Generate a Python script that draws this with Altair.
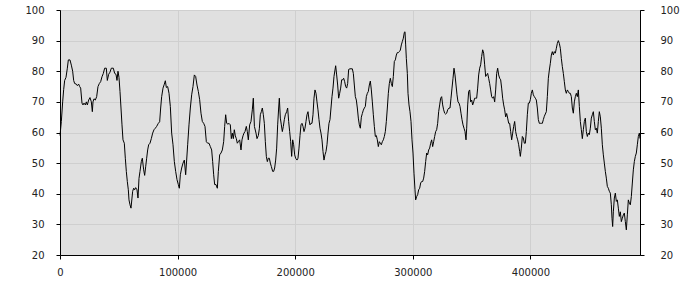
import altair as alt
import pandas as pd

X_VALUES = [
    0, 1134, 2267, 3117, 3967, 5101, 6235, 7085, 8502, 9635, 10769, 11619, 12469, 13886, 14736, 15870,
    16720, 17571, 18704, 19554, 20405, 21538, 22388, 23239, 24372, 25506, 26639, 27489, 28056, 28906,
    30040, 31173, 32307, 33441, 34574, 35708, 36842, 37975, 39392, 40242, 41376, 42510, 43643, 45344,
    46477, 47611, 48461, 49311, 50162, 51012, 51862, 52712, 53562, 54696, 55546, 56396, 57247, 58097,
    58664, 59514, 60364, 61214, 61781, 62631, 63481, 64332, 65465, 66316, 67166, 68016, 69149, 70000,
    71133, 71983, 72834, 73684, 74534, 75384, 76518, 77651, 78785, 79919, 81052, 82186,
    83613, 84747, 85597, 86447, 87581, 88714, 89565, 90415, 91548, 92682, 93816, 94949, 96083, 97217,
    98350, 99484, 100617, 101468, 102318, 103451, 104585, 105719, 106852, 107702, 108553, 109686,
    110820, 111953, 113087, 114221, 115354, 116488, 117621, 118755, 119888, 121022, 122156, 123289,
    124423, 125556, 126690, 127823, 128957, 129807, 130657, 131508, 132641, 133775, 134625, 135759,
    136892, 138026, 139159, 140010, 140860, 141710, 142844, 143694, 144827, 145678, 146528, 147378,
    148228, 149078, 149929, 150779, 151629, 152763, 153896, 154746, 155597, 156447, 157297, 158431,
    159281, 160131, 161265, 162398, 163532, 164382, 165300,
    166659, 167509, 168643, 169493, 170343, 171193, 172044, 172894, 173744, 174594, 175444, 176295,
    177145, 177995, 178845, 179695, 180829, 181679, 182529, 183379, 184230, 185080, 185930, 186497,
    187347, 188197, 189047, 189898, 190748, 191598, 192732, 193582, 194432, 195282, 196132, 196983,
    197833, 198683, 199533, 200383, 201517, 202367, 203217, 204068, 204918, 205768, 206618, 207468,
    208319, 209169, 210019, 210869, 211719, 212570, 213420, 214270, 215120, 215970, 216821, 217671,
    218521, 219371, 220221, 221072, 221922, 222772, 223622, 224472, 225323, 226173, 227023, 227873,
    228723, 229574, 230424, 231274, 232124, 232974, 233825, 234391, 235241, 236092, 236942, 237792,
    238642, 239493, 240343, 241193, 242043, 242893, 243744, 244594, 245444, 246578,
    248571, 249421, 250271, 251122, 251972, 252822, 253672, 254522, 255373, 256223, 257073, 257923,
    258773, 259624, 260474, 261324, 262174, 263024, 263875, 264725, 265575, 266425, 267275, 268126,
    268976, 269826, 270676, 271526, 272377, 273227, 274077, 274927, 275777, 276628, 277478, 278328,
    279178, 280028, 280879, 281729, 282579, 283429, 284280, 285130, 285980, 286830, 287680, 288531,
    289381, 290231, 291081, 291931, 292782, 293348, 293915, 294482, 295332, 295899, 296749, 297599,
    298450, 299300, 300150, 301000, 301850, 302417, 303267, 304118, 304968, 305818, 306668, 307518,
    308369, 309219, 310069, 310919, 311769, 312620, 313470, 314320, 315170, 316021, 316871, 317721,
    318571, 319421, 320272, 321122, 321972, 322822, 323672, 324523, 325373, 326223, 327073, 327923,
    328774, 329624,
    330767, 331617, 332467, 333317, 334167, 335018, 335868, 336718, 337568, 338418, 339269, 340119,
    340969, 341819, 342669, 343520, 344370, 345220, 345787, 346637, 347487, 348338, 349188, 350038,
    350888, 351738, 352589, 353439, 354289, 355139, 355989, 356840, 357690, 358540, 359390, 360240,
    361091, 361941, 362791, 363641, 364491, 365342, 366192, 367042, 367892, 368743, 369593, 370443,
    371293, 372143, 372994, 373844, 374694, 375544, 376394, 377245, 378095, 378945, 379795, 380645,
    381496, 382346, 383196, 384046, 384896, 385747, 386597, 387447, 388297, 389147, 389998, 390848,
    391415, 392265, 393115, 393965, 394816, 395666, 396516, 397366, 398216, 399067, 399917, 400767,
    401617, 402467, 403318, 404168, 405018, 405868, 406718, 407569, 408419, 409269, 410119, 410969,
    411820,
    413529, 414379, 415229, 416080, 416930, 417780, 418630, 419480, 420331, 421181, 422031, 422881,
    423731, 424582, 425432, 426282, 427132, 427982, 428833, 429683, 430533, 431383, 432234, 433084,
    433934, 434784, 435634, 436485, 437335, 438185, 439035, 439885, 440736, 441586, 442436, 443286,
    444136, 444987, 445837, 446687, 447537, 448387, 449238, 450088, 450938, 451788, 452638, 453489,
    454339, 455189, 456039, 456889, 457740, 458590, 459440, 460290, 461140, 461991, 462841, 463691,
    464541, 465392, 466242, 467092, 467942, 468792, 469359, 469926, 470493, 471343, 472193, 473043,
    473894, 474744, 475594, 476444, 477294, 478145, 478995, 479845, 480695, 481545, 482396, 483246,
    484096, 484946, 485797, 486647, 487497, 488347, 489197, 490048, 490898, 491748, 492598, 493165,
]

Y_VALUES = [
    59, 63.6, 70, 74, 77, 78, 81, 83.7, 83.7, 82, 80, 77, 76, 75.8, 75.3, 75.8,
    75, 74.5, 69.6, 69, 69.6, 69, 70, 69, 70.6, 71.4, 70, 66.8, 70, 71,
    70.6, 71.7, 75, 76, 76.6, 78.2, 79.3, 81, 81, 77, 79, 79.7, 81, 81,
    79.3, 79, 77, 80, 78, 73.4, 68, 62.5, 57.6, 56.5, 51.6, 47.3, 44, 41.3,
    38, 36.4, 35.3, 38.6, 40.8, 41.8, 41.3, 42, 41.3, 38.6, 45, 47.3, 50.5, 51.6,
    47.8, 46, 48.8, 51.6, 54.3, 56, 56.5, 58, 59.8, 60.9, 61.4, 62,
    63, 63.5, 68, 71.7, 74.5, 75.8, 76.9, 74.7, 75, 72.8, 68.5, 59.8, 56, 50.5,
    47.3, 44.6, 43, 41.8, 46.2, 48.4, 50, 51, 46.2, 51, 56, 62.5,
    68, 72.3, 75, 78.8, 78.3, 75.5, 73.4, 70.7, 66.3, 63.6, 63, 62,
    57, 56.5, 56.5, 55.4, 54.3, 50.5, 46.2, 43, 43, 41.8, 47.3, 52.7,
    53.3, 54.3, 57, 62, 65.8, 63, 62.7, 63, 62.5, 58, 59.8, 58,
    60.9, 58.9, 58, 56.5, 57, 57.6, 54.3, 57.6, 58.9, 59.8, 60.3, 62,
    60.3, 57.6, 62.5, 63.6, 67.4, 71.2, 62,
    59.8, 58, 59, 61.2, 65.8, 66.8, 68, 65.8, 63, 57, 52.2, 50.5,
    51.6, 51.6, 50, 48.9, 47.3, 47.3, 48.4, 51, 54.9, 62.5, 68, 71.2,
    64.7, 62.5, 60.3, 62, 64.2, 65.8, 66.8, 68, 63.6, 60.3, 57, 52.2,
    57.6, 56, 52.7, 51.6, 51, 51.6, 54.9, 59, 62.5, 63, 62, 60.3,
    61.4, 63.6, 65.8, 66.8, 64.2, 62.5, 63, 63, 65.8, 71.2, 73.9, 72.8,
    70, 67.4, 64.2, 61.4, 59.8, 57.6, 53.8, 51, 52.7, 53.8, 56, 59.8,
    63, 64.2, 68, 71.7, 74.5, 78.3, 80.4, 81.8, 78.8, 75.5, 71.2, 72.8,
    74.5, 77.2, 77.2, 77.7, 76.6, 75, 74.5, 76, 80.6, 80.8,
    80.8, 79.3, 75.5, 71.7, 70.6, 68, 64.7, 62.5, 61.4, 65, 66.2, 67.3,
    68, 68.5, 71.7, 72.8, 73.4, 75.5, 76.8, 73.9, 70, 65.8, 62, 58.7,
    59, 57.6, 55.4, 57, 56.5, 56, 57, 57.6, 58.7, 60.3, 63.6, 68,
    72.8, 76, 77.7, 76, 75, 78.3, 83.2, 83.7, 85.3, 86.1, 86.1, 86.4,
    86.9, 88.6, 89.7, 90.8, 92.7, 92.9, 88.6, 84.2, 79.3, 72.8, 69, 66.8,
    63.6, 57.6, 53.3, 46.7, 41.3, 38, 39.1, 39.7, 41.3, 41.8, 43.5, 44,
    44, 45.1, 47.3, 50.5, 53.3, 52.7, 54.3, 54.9, 56.5, 57.6, 55.4, 57,
    58.7, 60.3, 60.9, 63, 66.8, 69, 71.2, 71.7, 69, 67.4, 66.3, 66,
    66.3, 67.4,
    68, 68, 71.2, 74.5, 77.7, 81, 78.8, 75.5, 72.3, 70, 69.6, 68.5,
    66.3, 64.2, 62.5, 61.4, 60.3, 57.6, 61.4, 69, 73.4, 73.9, 70, 70.6,
    69, 70, 71.2, 71.2, 71.2, 74.5, 78.8, 81, 82.1, 84.8, 87, 85.9,
    82.1, 78.3, 78.8, 79.3, 77.7, 76, 73.9, 71.7, 71.2, 71.7, 70, 73.9,
    79.3, 81, 78.8, 77.7, 77.2, 74.5, 71.2, 69, 67.4, 65.1, 66.2, 64.7,
    63, 63, 60.3, 57.6, 59.8, 62, 63.6, 60.3, 58.7, 57.6, 56, 53.8,
    52.2, 54.9, 58.7, 58.2, 56.5, 56.5, 60.3, 65.8, 69.6, 69.6, 70.7, 72.8,
    73.9, 72.3, 71.7, 71.2, 70.6, 68, 64.2, 63, 63, 63, 63, 64.2,
    65.3,
    66.8, 71.7, 77.7, 80.4, 82.6, 85.3, 86.4, 85.3, 86.4, 85.9, 87.5, 89.1,
    90, 89.1, 87.5, 84.2, 81.5, 79.3, 76.6, 73.9, 72.8, 73.9, 73.4, 72.8,
    72.8, 71.7, 68, 66.3, 70, 71.7, 72.8, 71.7, 73.9, 68.5, 63.6, 60.9,
    58, 60.9, 63.6, 64.7, 60.3, 58.7, 59.8, 59.3, 61.4, 64.7, 65.8, 66.8,
    63.6, 60.9, 61.4, 59.8, 63.6, 66.8, 65.1, 61.4, 56, 52.7, 50, 47.3,
    45.1, 42.4, 41.8, 40.8, 40.2, 36.4, 32, 29.3, 34.1, 38.6, 40.2, 37.5,
    38, 35.3, 32.6, 34.1, 30.9, 32, 33.1, 33.7, 30.9, 28.2, 33.1, 38,
    36.9, 36.4, 39.1, 43.5, 47.8, 50.5, 52.2, 53.3, 56, 58.7, 59.8, 58,
]

X_TICKS = [0, 100000, 200000, 300000, 400000]
Y_TICKS = [20, 30, 40, 50, 60, 70, 80, 90, 100]

df = pd.DataFrame({"x": X_VALUES, "y": Y_VALUES})

FONT = "DejaVu Sans"
x_enc = alt.X(
    "x:Q",
    scale=alt.Scale(domain=[0, 493165], nice=False, zero=False),
    axis=alt.Axis(
        values=X_TICKS, format="d", title=None, grid=True, gridColor="#cfcfcf",
        domainColor="#000000", tickColor="#000000", tickSize=4, labelFlush=False,
        labelFont=FONT, labelFontSize=10, labelColor="#222222", labelPadding=8,
    ),
)
y_scale = alt.Scale(domain=[20, 100], nice=False, zero=False)

left = alt.Chart(df).mark_line(color="#000000", strokeWidth=1).encode(
    x=x_enc,
    y=alt.Y(
        "y:Q", scale=y_scale,
        axis=alt.Axis(
            values=Y_TICKS, title=None, orient="left", grid=True, gridColor="#cfcfcf",
            domainColor="#000000", tickColor="#000000", tickSize=4,
            labelFont=FONT, labelFontSize=10, labelColor="#222222", labelPadding=12,
        ),
    ),
)

right = alt.Chart(df).mark_line(opacity=0).encode(
    x=x_enc,
    y=alt.Y(
        "y:Q", scale=y_scale,
        axis=alt.Axis(
            values=Y_TICKS, title=None, orient="right", grid=False,
            domainColor="#000000", tickColor="#000000", tickSize=4,
            labelFont=FONT, labelFontSize=10, labelColor="#222222", labelPadding=16,
        ),
    ),
)

chart = (
    alt.layer(left, right)
    .resolve_scale(y="independent")
    .properties(
        width=580, height=245,
        autosize=alt.AutoSizeParams(type="none"),
        padding={"left": 60, "top": 10, "right": 60, "bottom": 45},
        background="#ffffff",
    )
    .configure_view(fill="#e0e0e0", stroke="#000000", strokeWidth=1)
)

chart.save("out.html", embed_options={"renderer": "svg", "actions": False})
